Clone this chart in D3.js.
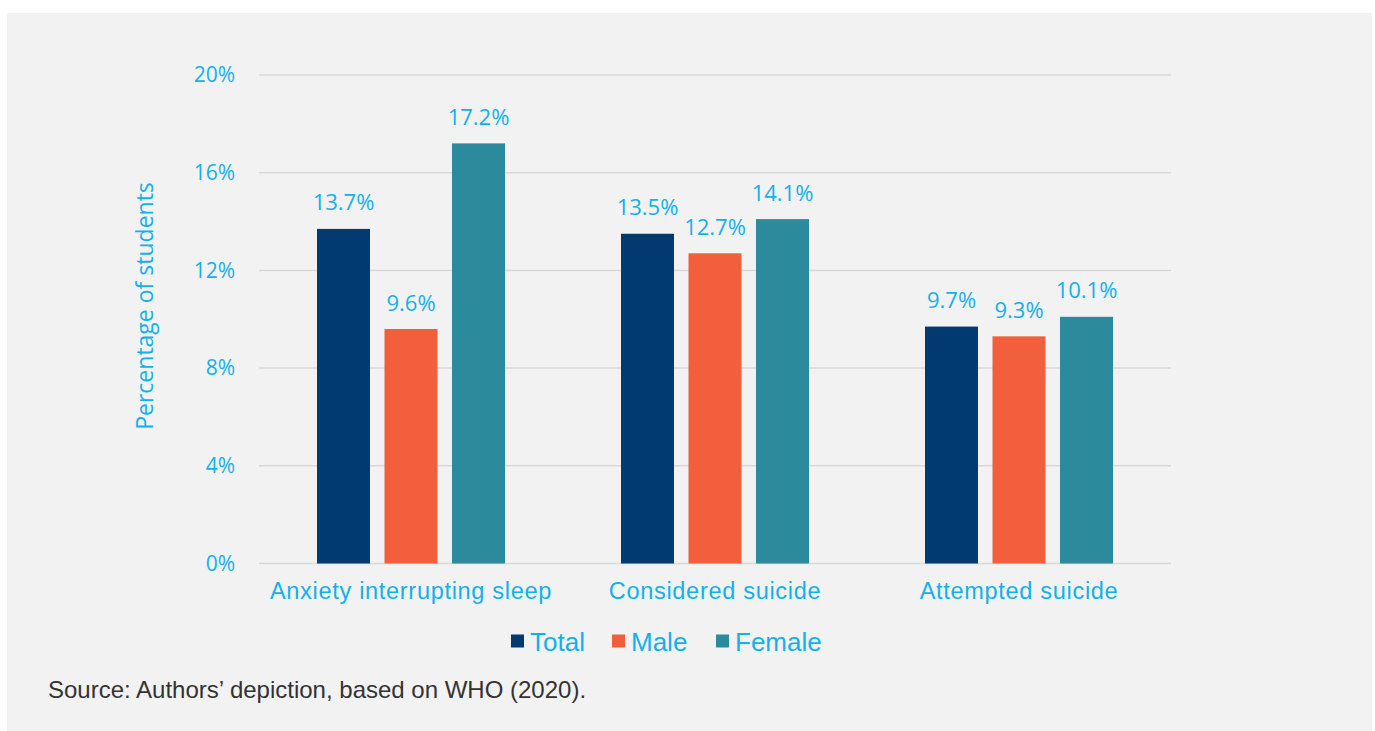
<!DOCTYPE html>
<html>
<head>
<meta charset="utf-8">
<script src="https://cdn.jsdelivr.net/npm/d3@7"></script>
<style>
  html, body { margin: 0; padding: 0; background: #ffffff; }
  svg { display: block; }
</style>
</head>
<body>
<svg id="chart" width="1375" height="731"></svg>
<script>
// Share of students reporting each outcome, by sex
const categories = ["Anxiety interrupting sleep", "Considered suicide", "Attempted suicide"];
const seriesNames = ["Total", "Male", "Female"];
const totalValues = [13.7, 13.5, 9.7];
const maleValues = [9.6, 12.7, 9.3];
const femaleValues = [17.2, 14.1, 10.1];
const yTicks = [0, 4, 8, 12, 16, 20];
const sourceNote = "Source: Authors\u2019 depiction, based on WHO (2020).";

const seriesValues = [totalValues, maleValues, femaleValues];
const colors = ["#003a70", "#f15f3c", "#2b8a9b"];
const labelBlue = "#12b1ec";

const svg = d3.select("#chart");

// panel background
svg.append("rect")
  .attr("x", 7).attr("y", 13)
  .attr("width", 1365).attr("height", 718)
  .attr("fill", "#f2f2f2");

const plot = { left: 259, right: 1171, top: 75, bottom: 563.5 };

const x0 = d3.scaleBand()
  .domain(categories)
  .range([plot.left, plot.right])
  .padding(0);

const x1 = d3.scaleBand()
  .domain(seriesNames)
  .range([-94, 94])
  .paddingInner(0.215)
  .paddingOuter(0);

const y = d3.scaleLinear()
  .domain([0, 20])
  .range([plot.bottom, plot.top]);

// horizontal gridlines
svg.append("g")
  .selectAll("line")
  .data(yTicks)
  .join("line")
  .attr("x1", plot.left).attr("x2", plot.right)
  .attr("y1", d => y(d)).attr("y2", d => y(d))
  .attr("stroke", "#d9d9d9")
  .attr("stroke-width", 1.5);

// y axis tick labels
const yAxis = d3.axisLeft(y)
  .tickValues(yTicks)
  .tickSize(0)
  .tickPadding(24)
  .tickFormat(d => d + "%");

svg.append("g")
  .attr("transform", `translate(${plot.left},0)`)
  .call(yAxis)
  .call(g => g.select(".domain").remove())
  .call(g => g.selectAll("text")
    .attr("fill", labelBlue)
    .attr("font-family", "'Open Sans', sans-serif")
    .attr("font-size", 21));

// y axis title
svg.append("text")
  .attr("transform", `translate(153,306) rotate(-90)`)
  .attr("text-anchor", "middle")
  .attr("fill", labelBlue)
  .attr("font-family", "'Open Sans', sans-serif")
  .attr("font-size", 23)
  .text("Percentage of students");

// bars
const rows = categories.map((c, i) => ({
  category: c,
  values: seriesNames.map((s, j) => ({ series: s, value: seriesValues[j][i], color: colors[j] }))
}));

const groups = svg.append("g")
  .selectAll("g")
  .data(rows)
  .join("g")
  .attr("transform", d => `translate(${x0(d.category) + x0.bandwidth() / 2},0)`);

groups.selectAll("rect")
  .data(d => d.values)
  .join("rect")
  .attr("x", d => x1(d.series))
  .attr("width", x1.bandwidth())
  .attr("y", d => y(d.value))
  .attr("height", d => y(0) - y(d.value))
  .attr("fill", d => d.color);

groups.selectAll("text")
  .data(d => d.values)
  .join("text")
  .attr("x", d => x1(d.series) + x1.bandwidth() / 2)
  .attr("y", d => y(d.value) - 18.5)
  .attr("text-anchor", "middle")
  .attr("fill", labelBlue)
  .attr("font-family", "'Open Sans', sans-serif")
  .attr("font-size", 22)
  .text(d => d.value.toFixed(1) + "%");

// category labels
svg.append("g")
  .selectAll("text")
  .data(categories)
  .join("text")
  .attr("x", d => x0(d) + x0.bandwidth() / 2)
  .attr("y", 598.5)
  .attr("text-anchor", "middle")
  .attr("fill", labelBlue)
  .attr("font-family", "'Liberation Sans', Arial, sans-serif")
  .attr("font-size", 23.5)
  .attr("letter-spacing", 0.7)
  .text(d => d);

// legend
const legendItems = [
  { name: seriesNames[0], color: colors[0], x: 511 },
  { name: seriesNames[1], color: colors[1], x: 612 },
  { name: seriesNames[2], color: colors[2], x: 716 }
];
const legend = svg.append("g")
  .selectAll("g")
  .data(legendItems)
  .join("g")
  .attr("transform", d => `translate(${d.x},641)`);
legend.append("rect")
  .attr("x", 0).attr("y", -6.5)
  .attr("width", 13).attr("height", 13)
  .attr("fill", d => d.color);
legend.append("text")
  .attr("x", 19).attr("y", 9.5)
  .attr("fill", labelBlue)
  .attr("font-family", "'Liberation Sans', Arial, sans-serif")
  .attr("font-size", 26)
  .text(d => d.name);

// source note
svg.append("text")
  .attr("x", 48).attr("y", 698)
  .attr("fill", "#333333")
  .attr("font-family", "'Liberation Sans', Arial, sans-serif")
  .attr("font-size", 24)
  .text(sourceNote);
</script>
</body>
</html>
